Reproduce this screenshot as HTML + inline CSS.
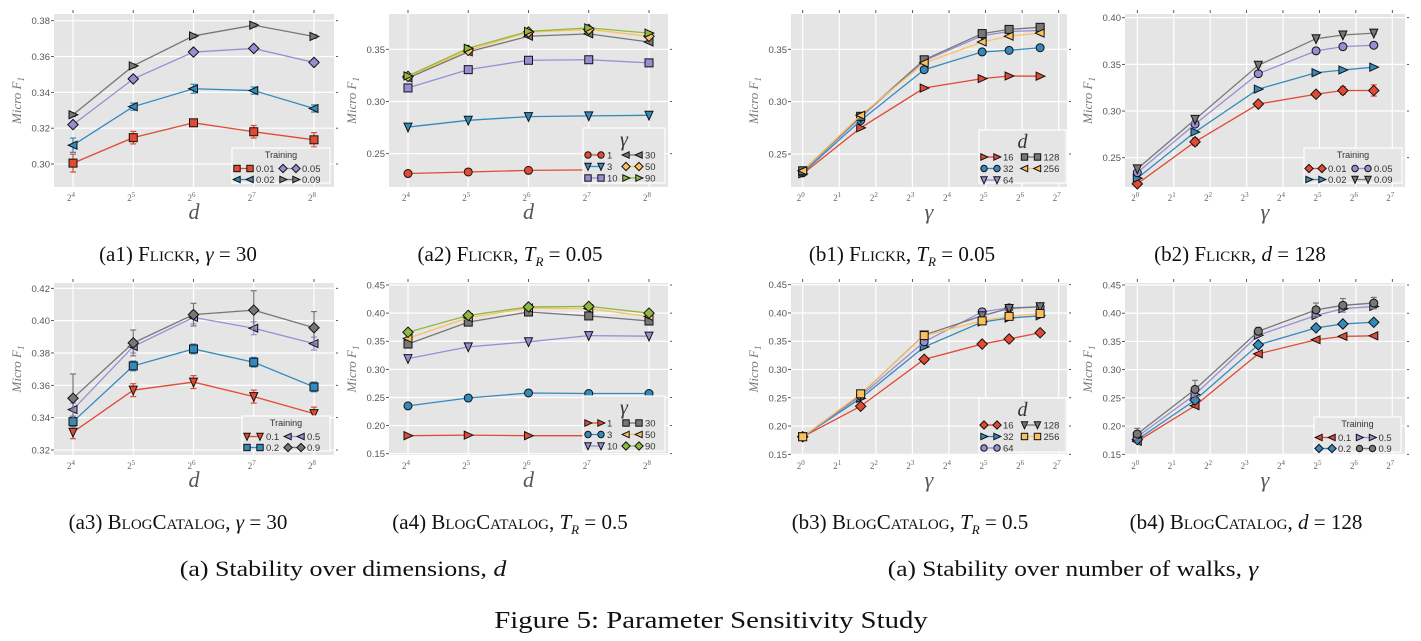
<!DOCTYPE html>
<html><head><meta charset="utf-8">
<style>
body{margin:0;background:#fff;width:1421px;height:641px;overflow:hidden;position:relative;font-family:"Liberation Serif",serif}
.cap{position:absolute;font-family:"Liberation Serif",serif;font-size:21px;color:#111;white-space:nowrap;transform:translateX(-50%)}
.sc{font-variant:small-caps}
i{font-style:italic}
svg{position:absolute;left:0;top:0}
</style></head>
<body>
<svg id="fig" width="1421" height="641"></svg>
<div class="cap" style="left:178px;top:242px">(a1) <span class="sc">Flickr</span>, <i>γ</i> = 30</div>
<div class="cap" style="left:510px;top:242px">(a2) <span class="sc">Flickr</span>, <i>T<sub style="font-size:13px">R</sub></i> = 0.05</div>
<div class="cap" style="left:902px;top:242px">(b1) <span class="sc">Flickr</span>, <i>T<sub style="font-size:13px">R</sub></i> = 0.05</div>
<div class="cap" style="left:1240px;top:242px">(b2) <span class="sc">Flickr</span>, <i>d</i> = 128</div>
<div class="cap" style="left:178px;top:510px">(a3) <span class="sc">BlogCatalog</span>, <i>γ</i> = 30</div>
<div class="cap" style="left:510px;top:510px">(a4) <span class="sc">BlogCatalog</span>, <i>T<sub style="font-size:13px">R</sub></i> = 0.5</div>
<div class="cap" style="left:910px;top:510px">(b3) <span class="sc">BlogCatalog</span>, <i>T<sub style="font-size:13px">R</sub></i> = 0.5</div>
<div class="cap" style="left:1246px;top:510px">(b4) <span class="sc">BlogCatalog</span>, <i>d</i> = 128</div>
<div class="cap" style="left:343px;top:556px;font-size:22px;transform:translateX(-50%) scaleX(1.18)">(a) Stability over dimensions, <i>d</i></div>
<div class="cap" style="left:1073px;top:556px;font-size:22px;transform:translateX(-50%) scaleX(1.15)">(a) Stability over number of walks, <i>γ</i></div>
<div class="cap" style="left:711px;top:608px;font-size:24px;transform:translateX(-50%) scaleX(1.2)">Figure 5: Parameter Sensitivity Study</div>
<script>
const dimsD=[16,32,64,128,256];
const walksG=[1,3,10,30,50,90];
const a1Labels=["0.01","0.02","0.05","0.09"];
const a1Values=[[0.3005,0.3147,0.323,0.318,0.3135],[0.3105,0.332,0.342,0.341,0.331],[0.322,0.3475,0.3625,0.3645,0.3567],[0.3275,0.3548,0.3715,0.3775,0.3712]];
const a1Errs=[[0.005,0.0035,0.002,0.0035,0.004],[0.004,0.002,0.0025,0.002,0.002],[0.001,0.001,0.001,0.001,0.001],[0.001,0.001,0.001,0.001,0.001]];
const a2Labels=["1","3","10","30","50","90"];
const a2Values=[[0.231,0.2325,0.234,0.2345,0.235],[0.2755,0.282,0.2855,0.2862,0.2868],[0.313,0.3305,0.3395,0.340,0.337],[0.3225,0.3475,0.3625,0.3648,0.357],[0.324,0.349,0.3665,0.369,0.3625],[0.3245,0.351,0.3672,0.3705,0.3655]];
const b1Labels=["16","32","64","128","256"];
const b1Values=[[0.231,0.275,0.313,0.322,0.3245,0.3243],[0.232,0.282,0.3305,0.3475,0.349,0.3515],[0.233,0.285,0.339,0.363,0.367,0.368],[0.234,0.286,0.340,0.365,0.369,0.371],[0.234,0.287,0.337,0.357,0.3625,0.3655]];
const b2Labels=["0.01","0.02","0.05","0.09"];
const b2Values=[[0.222,0.267,0.3075,0.318,0.322,0.322],[0.228,0.2775,0.3235,0.341,0.344,0.347],[0.234,0.286,0.340,0.3645,0.369,0.3705],[0.238,0.291,0.349,0.3775,0.3815,0.3835]];
const b2Errs=[[0.002,0.004,0.002,0.003,0.004,0.006],[0.001,0.001,0.001,0.001,0.001,0.001],[0.001,0.001,0.001,0.001,0.001,0.001],[0.001,0.001,0.001,0.001,0.001,0.001]];
const a3Labels=["0.1","0.2","0.5","0.9"];
const a3Values=[[0.331,0.357,0.362,0.353,0.3425],[0.3375,0.372,0.3825,0.3743,0.359],[0.345,0.384,0.402,0.3953,0.3858],[0.352,0.3862,0.4037,0.4065,0.3956]];
const a3Errs=[[0.004,0.004,0.004,0.004,0.004],[0.003,0.003,0.003,0.003,0.003],[0.004,0.004,0.004,0.004,0.004],[0.015,0.008,0.007,0.012,0.01]];
const a4Labels=["1","3","10","30","50","90"];
const a4Values=[[0.182,0.183,0.182,0.182,0.182],[0.235,0.249,0.258,0.257,0.257],[0.319,0.340,0.349,0.360,0.359],[0.345,0.384,0.402,0.395,0.386],[0.355,0.392,0.409,0.408,0.394],[0.366,0.396,0.411,0.412,0.400]];
const b3Labels=["16","32","64","128","256"];
const b3Values=[[0.181,0.235,0.318,0.345,0.354,0.365],[0.181,0.249,0.340,0.384,0.391,0.395],[0.181,0.253,0.349,0.402,0.409,0.411],[0.181,0.256,0.361,0.395,0.408,0.411],[0.181,0.257,0.360,0.386,0.394,0.399]];
const b4Labels=["0.1","0.2","0.5","0.9"];
const b4Values=[[0.173,0.236,0.328,0.353,0.359,0.360],[0.176,0.246,0.344,0.374,0.381,0.384],[0.181,0.256,0.361,0.396,0.408,0.412],[0.186,0.265,0.368,0.406,0.414,0.418]];
const b4Errs=[[0.002,0.003,0.002,0.002,0.002,0.002],[0.002,0.003,0.002,0.002,0.002,0.002],[0.002,0.003,0.002,0.002,0.002,0.002],[0.01,0.016,0.007,0.012,0.012,0.01]];
const yTicksA1=[0.30,0.32,0.34,0.36,0.38];
const yTicksA2=[0.25,0.30,0.35];
const yTicksB2=[0.25,0.30,0.35,0.40];
const yTicksA3=[0.32,0.34,0.36,0.38,0.40,0.42];
const yTicksWide=[0.15,0.20,0.25,0.30,0.35,0.40,0.45];
const xExpD=[4,5,6,7,8];
const xExpG=[0,1,2,3,4,5,6,7];

const C={r:"#E24A33",b:"#348ABD",p:"#988ED5",g:"#777777",y:"#FBC15E",gr:"#8EBA42"};
const NS="http://www.w3.org/2000/svg";
const fig=document.getElementById('fig');
function el(tag,attrs,parent){const e=document.createElementNS(NS,tag);for(const k in attrs)e.setAttribute(k,attrs[k]);(parent||fig).appendChild(e);return e;}

function marker(g,type,x,y,col,s){
  let e;
  if(type==='s'){e=el('rect',{x:x-s,y:y-s,width:2*s,height:2*s},g);}
  else if(type==='o'){e=el('circle',{cx:x,cy:y,r:s},g);}
  else if(type==='D'){e=el('polygon',{points:`${x},${y-s*1.3} ${x+s*1.3},${y} ${x},${y+s*1.3} ${x-s*1.3},${y}`},g);}
  else if(type==='<'){e=el('polygon',{points:`${x-s*1.2},${y} ${x+s},${y-s} ${x+s},${y+s}`},g);}
  else if(type==='>'){e=el('polygon',{points:`${x+s*1.2},${y} ${x-s},${y-s} ${x-s},${y+s}`},g);}
  else {e=el('polygon',{points:`${x},${y+s*1.2} ${x-s},${y-s} ${x+s},${y-s}`},g);}
  e.setAttribute('fill',col);e.setAttribute('stroke','#111');e.setAttribute('stroke-width','1');
  
  
  return e;
}

function panel(cfg){
  const g=el('g',{});
  
  
  const [L,T,R,B]=cfg.rect;
  const xs=v=>cfg.xp0+(Math.log2(v)-cfg.xv0)*(cfg.xp1-cfg.xp0)/(cfg.xv1-cfg.xv0);
  const xe=e=>cfg.xp0+(e-cfg.xv0)*(cfg.xp1-cfg.xp0)/(cfg.xv1-cfg.xv0);
  const [v1,p1,v2,p2]=cfg.yc;
  const ys=v=>p1+(v-v1)*(p2-p1)/(v2-v1);
  const bg=el('rect',{x:L,y:T,width:R-L,height:B-T,fill:"#E5E5E5"},g);
  
  
  cfg.yticks.forEach(t=>{
    const y=ys(t);
    el('line',{x1:L,x2:R,y1:y,y2:y,stroke:"#fff","stroke-width":1.2},g);
    el('line',{x1:L-3,x2:L,y1:y,y2:y,stroke:"#333","stroke-width":0.8},g);
    el('line',{x1:R+2,x2:R+4,y1:y,y2:y,stroke:"#333","stroke-width":0.8},g);
    const tx=el('text',{x:L-4,y:y+3.5,"text-anchor":"end","font-family":"Liberation Sans, sans-serif","font-size":9.5,fill:"#555"},g);
    tx.textContent=t.toFixed(2);
    
    
  });
  cfg.xticks.forEach(e=>{
    const x=xe(e);
    el('line',{x1:x,x2:x,y1:T,y2:B,stroke:"#fff","stroke-width":1.2},g);
    el('line',{x1:x,x2:x,y1:T-4,y2:T-1,stroke:"#333","stroke-width":0.8},g);
    const tx=el('text',{x:x-2,y:B+14,"text-anchor":"middle","font-family":"Liberation Serif, serif","font-size":9,fill:"#666"},g);
    tx.textContent="2";
    const sp=el('tspan',{dy:-4,"font-size":7},tx);sp.textContent=String(e);
    
    
  });
  const xl=el('text',{x:(L+R)/2,y:B+32,"text-anchor":"middle","font-family":"Liberation Serif, serif","font-style":"italic","font-size":22,fill:"#555"},g);
  xl.textContent=cfg.xlabel;
  
  
  const yl=el('text',{x:0,y:0,"text-anchor":"middle","font-family":"Liberation Serif, serif","font-style":"italic","font-size":13,fill:"#777",transform:`translate(${L-33},${(T+B)/2}) rotate(-90)`},g);
  yl.textContent="Micro  F";
  const ys1=el('tspan',{dy:3,"font-size":9},yl);ys1.textContent="1";
  
  
  cfg.values.forEach((ser,i)=>{
    const col=cfg.colors[i];
    const pts=ser.map((v,j)=>`${xs(cfg.xvals[j])},${ys(v)}`).join(' ');
    const pl=el('polyline',{points:pts,fill:"none",stroke:col,"stroke-width":1.3},g);
    
    
    ser.forEach((v,j)=>{
      const x=xs(cfg.xvals[j]),y=ys(v);
      if(cfg.errs){const er=cfg.errs[i][j];
        el('line',{x1:x,x2:x,y1:ys(v-er),y2:ys(v+er),stroke:col,"stroke-width":1.2},g);
        el('line',{x1:x-3,x2:x+3,y1:ys(v-er),y2:ys(v-er),stroke:col,"stroke-width":1.2},g);
        el('line',{x1:x-3,x2:x+3,y1:ys(v+er),y2:ys(v+er),stroke:col,"stroke-width":1.2},g);}
      marker(g,cfg.markers[i],x,y,col,4);
    });
  });
  const lg=cfg.legend;const [lx0,ly0,lx1,ly1]=lg.box;
  const lgG=el('g',{},g);
  
  
  el('rect',{x:lx0,y:ly0,width:lx1-lx0,height:ly1-ly0,fill:"#E5E5E5",stroke:"#fff","stroke-width":1.2},lgG);
  const tt=el('text',{x:(lx0+lx1)/2,y:lg.big?ly0+18:ly0+10,"text-anchor":"middle","font-family":lg.big?"Liberation Serif, serif":"Liberation Sans, sans-serif","font-style":lg.big?"italic":"normal","font-size":lg.big?20:9,fill:"#333"},lgG);
  tt.textContent=lg.title;
  
  
  const rows=lg.rows, r0=lg.big?ly0+27:ly0+20.5, dr=lg.big?11.5:11;
  const colW=(lx1-lx0-6)/2;
  cfg.labels.forEach((lab,i)=>{
    const c=Math.floor(i/rows), r=i%rows;
    const hx=lx0+5+c*colW, hy=r0+r*dr;
    const ent=el('g',{},lgG);
    
    
    el('line',{x1:hx,x2:hx+13,y1:hy,y2:hy,stroke:cfg.colors[i],"stroke-width":1.3},ent);
    marker(ent,cfg.markers[i],hx,hy,cfg.colors[i],3.2);
    marker(ent,cfg.markers[i],hx+13,hy,cfg.colors[i],3.2);
    const t=el('text',{x:hx+19,y:hy+3.5,"font-family":"Liberation Sans, sans-serif","font-size":9.5,fill:"#333"},ent);
    t.textContent=lab;
  });
}

panel({name:'chart-a1',rect:[54,14,334,187],xp0:73,xv0:4,xp1:314,xv1:8,yc:[0.38,20.7,0.30,164],yticks:yTicksA1,xticks:xExpD,xlabel:'d',
  xvals:dimsD,values:a1Values,errs:a1Errs,labels:a1Labels,colors:[C.r,C.b,C.p,C.g],markers:['s','<','D','>'],
  legend:{box:[232,148,330,183],title:'Training',rows:2}});
panel({name:'chart-a2',rect:[389,14,668,187],xp0:408,xv0:4,xp1:649,xv1:8,yc:[0.35,49.3,0.25,153.7],yticks:yTicksA2,xticks:xExpD,xlabel:'d',
  xvals:dimsD,values:a2Values,labels:a2Labels,colors:[C.r,C.b,C.p,C.g,C.y,C.gr],markers:['o','v','s','<','D','>'],
  legend:{box:[583,128,665,183],title:'γ',big:true,rows:3}});
panel({name:'chart-b1',rect:[791,14,1067,187],xp0:802.7,xv0:0,xp1:1058.7,xv1:7,yc:[0.35,49.3,0.25,154],yticks:yTicksA2,xticks:xExpG,xlabel:'γ',
  xvals:walksG,values:b1Values,labels:b1Labels,colors:[C.r,C.b,C.p,C.g,C.y],markers:['>','o','v','s','<'],
  legend:{box:[979,130,1066,183],title:'d',big:true,rows:3}});
panel({name:'chart-b2',rect:[1125,14,1405,187],xp0:1137.3,xv0:0,xp1:1392.3,xv1:7,yc:[0.40,17.7,0.25,157.7],yticks:yTicksB2,xticks:xExpG,xlabel:'γ',
  xvals:walksG,values:b2Values,errs:b2Errs,labels:b2Labels,colors:[C.r,C.b,C.p,C.g],markers:['D','>','o','v'],
  legend:{box:[1304,148,1402,183],title:'Training',rows:2}});
panel({name:'chart-a3',rect:[54,283,334,455],xp0:73,xv0:4,xp1:314,xv1:8,yc:[0.42,288.3,0.32,450],yticks:yTicksA3,xticks:xExpD,xlabel:'d',
  xvals:dimsD,values:a3Values,errs:a3Errs,labels:a3Labels,colors:[C.r,C.b,C.p,C.g],markers:['v','s','<','D'],
  legend:{box:[242,416,330,451],title:'Training',rows:2}});
panel({name:'chart-a4',rect:[389,283,668,455],xp0:408,xv0:4,xp1:649,xv1:8,yc:[0.45,285,0.15,453.7],yticks:yTicksWide,xticks:xExpD,xlabel:'d',
  xvals:dimsD,values:a4Values,labels:a4Labels,colors:[C.r,C.b,C.p,C.g,C.y,C.gr],markers:['>','o','v','s','<','D'],
  legend:{box:[583,396,665,451],title:'γ',big:true,rows:3}});
panel({name:'chart-b3',rect:[791,283,1067,455],xp0:802.7,xv0:0,xp1:1058.7,xv1:7,yc:[0.45,284.7,0.15,454.3],yticks:yTicksWide,xticks:xExpG,xlabel:'γ',
  xvals:walksG,values:b3Values,labels:b3Labels,colors:[C.r,C.b,C.p,C.g,C.y],markers:['D','>','o','v','s'],
  legend:{box:[979,398,1066,452],title:'d',big:true,rows:3}});
panel({name:'chart-b4',rect:[1125,283,1405,455],xp0:1137.3,xv0:0,xp1:1392.3,xv1:7,yc:[0.45,285,0.15,454.3],yticks:yTicksWide,xticks:xExpG,xlabel:'γ',
  xvals:walksG,values:b4Values,errs:b4Errs,labels:b4Labels,colors:[C.r,C.b,C.p,C.g],markers:['<','D','>','o'],
  legend:{box:[1314,417,1401,452],title:'Training',rows:2}});
</script>
</body></html>
